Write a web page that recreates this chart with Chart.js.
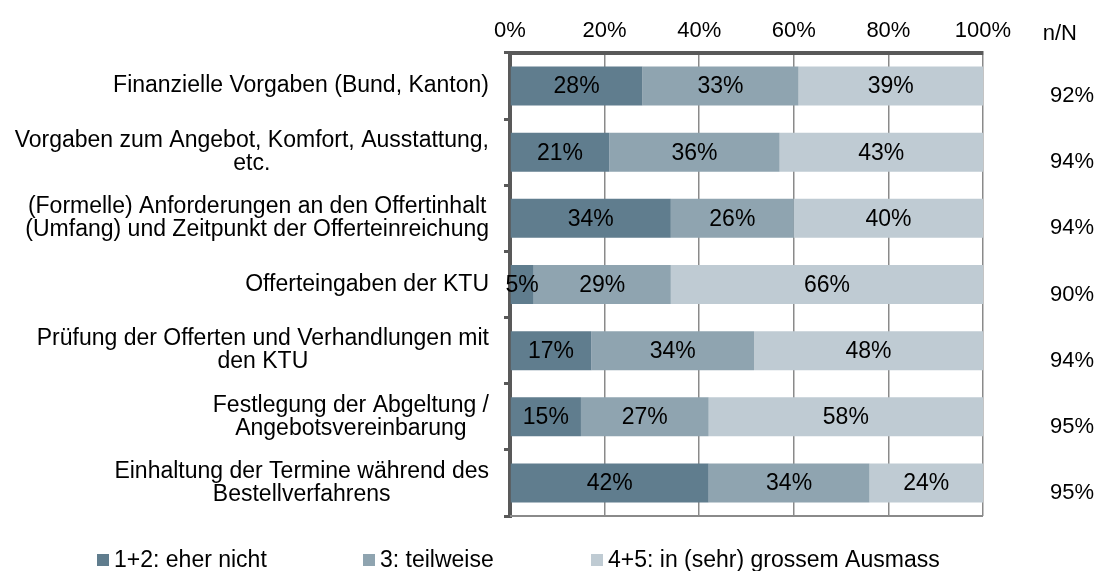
<!DOCTYPE html>
<html>
<head>
<meta charset="utf-8">
<script src="https://cdn.jsdelivr.net/npm/chart.js@4.4.1/dist/chart.umd.min.js"></script>
<style>
  html, body { margin: 0; padding: 0; background: #fff; }
  #wrap { position: relative; width: 1099px; height: 571px; }
</style>
</head>
<body>
<div id="wrap"><canvas id="chart"></canvas></div>
<script>
// Stacked shares per planning step, plus n/N response rate on the right.
const CATEGORIES = [
  ['Finanzielle Vorgaben (Bund, Kanton)'],
  ['Vorgaben zum Angebot, Komfort, Ausstattung,', 'etc.'],
  ['(Formelle) Anforderungen an den Offertinhalt', '(Umfang) und Zeitpunkt der Offerteinreichung'],
  ['Offerteingaben der KTU'],
  ['Prüfung der Offerten und Verhandlungen mit', 'den KTU'],
  ['Festlegung der Abgeltung /', 'Angebotsvereinbarung'],
  ['Einhaltung der Termine während des', 'Bestellverfahrens'],
];
const LOW = [28, 21, 34, 5, 17.2, 15, 42];
const MID = [33, 36, 26, 29, 34.4, 27, 34];
const HIGH = [39, 43, 40, 66, 48.4, 58, 24];
const N_RATE = ['92%', '94%', '94%', '90%', '94%', '95%', '95%'];
const SERIES_NAMES = ['1+2: eher nicht', '3: teilweise', '4+5: in (sehr) grossem Ausmass'];
const X_TICKS = [0, 20, 40, 60, 80, 100];

const COLORS = ['#607d8e', '#8fa4b0', '#bfcbd3'];
const FONT = '"Liberation Sans", Arial, sans-serif';
const TEXT_SIZE = 23;
const TICK_SIZE = 22;
const AXIS_DARK = '#595959';
const GRID = '#8a8a8a';

function fontStr(size) {
  return `${size}px ${FONT}`;
}

// Category labels: right-aligned block, each line centred on the widest one.
const categoryLabels = {
  id: 'categoryLabels',
  afterDraw(chart) {
    const { ctx, chartArea } = chart;
    const y = chart.scales.y;
    const lineH = 23;
    ctx.save();
    ctx.font = fontStr(TEXT_SIZE);
    ctx.fillStyle = '#000';
    ctx.textBaseline = 'middle';
    ctx.textAlign = 'center';
    CATEGORIES.forEach((lines, i) => {
      const cy = y.getPixelForValue(i);
      const w = Math.max(...lines.map((l) => ctx.measureText(l).width));
      const cx = chartArea.left - 21 - w / 2;
      const top = cy - ((lines.length - 1) * lineH) / 2;
      lines.forEach((l, k) => ctx.fillText(l, cx, top + k * lineH));
    });
    ctx.restore();
  },
};

// Percent labels centred inside each segment.
const segmentLabels = {
  id: 'segmentLabels',
  afterDatasetsDraw(chart) {
    const { ctx } = chart;
    ctx.save();
    ctx.font = fontStr(TEXT_SIZE);
    ctx.fillStyle = '#000';
    ctx.textAlign = 'center';
    ctx.textBaseline = 'middle';
    chart.data.datasets.forEach((ds, di) => {
      chart.getDatasetMeta(di).data.forEach((bar, i) => {
        ctx.fillText(`${Math.round(ds.data[i])}%`, (bar.x + bar.base) / 2, bar.y + 1);
      });
    });
    ctx.restore();
  },
};

// n/N column, bottom frame line and the legend row.
const extras = {
  id: 'extras',
  afterDraw(chart) {
    const { ctx, chartArea } = chart;
    const y = chart.scales.y;
    ctx.save();
    ctx.strokeStyle = GRID;
    ctx.lineWidth = 2;
    ctx.beginPath();
    ctx.moveTo(chartArea.left, chartArea.bottom);
    ctx.lineTo(chartArea.right, chartArea.bottom);
    ctx.stroke();

    ctx.font = fontStr(TICK_SIZE);
    ctx.fillStyle = '#000';
    ctx.textAlign = 'right';
    ctx.textBaseline = 'middle';
    ctx.fillText('n/N', chartArea.right + 94, 34);
    N_RATE.forEach((t, i) => ctx.fillText(t, chartArea.right + 111, y.getPixelForValue(i) + 10));

    const legendX = [97, 363, 591];
    const ly = 560;
    ctx.font = fontStr(TEXT_SIZE);
    ctx.textAlign = 'left';
    SERIES_NAMES.forEach((name, i) => {
      ctx.fillStyle = COLORS[i];
      ctx.fillRect(legendX[i], ly - 6, 12, 12);
      ctx.fillStyle = '#000';
      ctx.fillText(name, legendX[i] + 17, ly + 1);
    });
    ctx.restore();
  },
};

new Chart(document.getElementById('chart'), {
  type: 'bar',
  data: {
    labels: CATEGORIES.map((c) => c.join(' ')),
    datasets: [LOW, MID, HIGH].map((data, i) => ({
      label: SERIES_NAMES[i],
      data,
      backgroundColor: COLORS[i],
      borderWidth: 0,
      barPercentage: 0.59,
      categoryPercentage: 1,
    })),
  },
  options: {
    indexAxis: 'y',
    responsive: true,
    maintainAspectRatio: false,
    animation: false,
    layout: { padding: { right: 116, bottom: 55, top: 0, left: 0 } },
    scales: {
      x: {
        position: 'top',
        stacked: true,
        min: 0,
        max: 100,
        afterFit: (s) => { s.height = 53; },
        afterBuildTicks: (s) => { s.ticks = X_TICKS.map((v) => ({ value: v })); },
        ticks: {
          callback: (v) => `${v}%`,
          color: '#000',
          font: { family: FONT, size: TICK_SIZE },
          padding: 9,
          maxRotation: 0,
        },
        grid: { color: GRID, lineWidth: 1.5, drawTicks: false },
        border: { display: true, color: AXIS_DARK, width: 4 },
      },
      y: {
        stacked: true,
        afterFit: (s) => { s.width = 510; },
        ticks: { display: false },
        grid: {
          offset: true,
          drawOnChartArea: false,
          drawTicks: true,
          tickLength: 6,
          color: AXIS_DARK,
          lineWidth: 3,
        },
        border: { display: true, color: AXIS_DARK, width: 4 },
      },
    },
    plugins: {
      legend: { display: false },
      tooltip: { enabled: false },
    },
  },
  plugins: [segmentLabels, categoryLabels, extras],
});
</script>
</body>
</html>
